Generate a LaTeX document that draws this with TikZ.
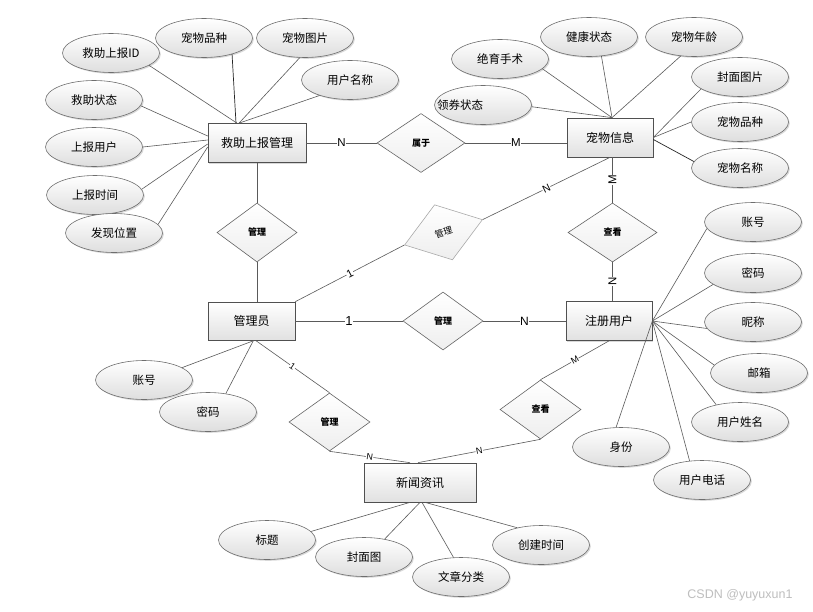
\documentclass[tikz,border=0pt]{standalone}
\usepackage{fontspec}
\setmainfont{Liberation Sans}
\newfontfamily\cjk{Noto Sans CJK SC}
\usetikzlibrary{shapes.geometric,shadows}
\definecolor{linec}{RGB}{90,90,90}
\definecolor{attrc}{RGB}{110,110,110}
\definecolor{attrbot}{RGB}{222,222,222}
\definecolor{entc}{RGB}{80,80,80}
\definecolor{entbot}{RGB}{225,225,225}
\definecolor{relc}{RGB}{100,100,100}
\definecolor{relbot}{RGB}{238,238,238}
\definecolor{relc2}{RGB}{170,170,170}
\definecolor{wmc}{RGB}{190,190,190}
\begin{document}
\begin{tikzpicture}[x=1pt,y=-1pt,
  line/.style={draw=linec, line width=0.6pt},
  dark/.style={draw=black!85, line width=0.7pt},
  attr/.style={ellipse, draw=attrc, line width=0.6pt, top color=white, bottom color=attrbot,
    minimum width=97pt, minimum height=39pt, inner sep=0pt,
    font=\cjk\fontsize{11.5}{12}\selectfont,
    drop shadow={shadow xshift=1.3pt, shadow yshift=-1.3pt, opacity=0.3}},
  ent/.style={rectangle, draw=entc, line width=0.7pt, top color=white, bottom color=entbot,
    minimum width=87pt, minimum height=39pt, inner sep=0pt,
    font=\cjk\fontsize{12}{13}\selectfont,
    drop shadow={shadow xshift=1.3pt, shadow yshift=-1.3pt, opacity=0.3}},
  rel/.style={diamond, draw=relc, line width=0.6pt, top color=white, bottom color=relbot,
    minimum width=80pt, minimum height=59pt, inner sep=0pt,
    font=\cjk\bfseries\fontsize{9}{10}\selectfont},
  card/.style={fill=white, inner sep=0.6pt, font=\fontsize{11.5}{12}\selectfont},
  cards/.style={fill=white, inner sep=0.5pt, font=\fontsize{9}{9}\selectfont},
  plain/.style={inner sep=0pt, font=\cjk\fontsize{11.5}{12}\selectfont},
]
\fill[white] (0,0) rectangle (813,611);
\useasboundingbox (0,0) rectangle (813,611);

% entities
\node[ent, minimum width=98pt] (jz) at (257,143) {救助上报管理};
\node[ent, minimum width=86pt] (cw) at (610,137.5) {宠物信息};
\node[ent, minimum height=38pt] (gly) at (251.5,321) {管理员};
\node[ent, minimum width=86pt] (zc) at (609,321) {注册用户};
\node[ent, minimum width=112pt] (xw) at (420,482.5) {新闻资讯};

% relations
\node[rel, minimum width=88pt] (d1) at (421,143) {属于};
\node[rel] (d2) at (257,232.5) {管理};
\node[rel, minimum width=89pt] (d3) at (612.5,232.5) {查看};
\node[rel, rotate=18, minimum width=82pt, minimum height=58pt, draw=relc2,
  font=\cjk\fontsize{9}{10}\selectfont] (d4) at (443.5,232.3) {管理};
\node[rel, minimum height=58pt] (d5) at (443,321) {管理};
\node[rel, minimum width=81pt] (d6) at (540.5,409.5) {查看};
\node[rel, minimum width=81pt, minimum height=58pt] (d7) at (329.5,422) {管理};

% attributes of 救助上报管理
\node[attr] (a1) at (111,53) {救助上报ID};
\node[attr] (a2) at (204,38) {宠物品种};
\node[attr] (a3) at (305,38) {宠物图片};
\node[attr] (a4) at (350,80) {用户名称};
\node[attr] (a5) at (94,100) {救助状态};
\node[attr] (a6) at (94,147) {上报用户};
\node[attr] (a7) at (95,195) {上报时间};
\node[attr] (a8) at (114,233) {发现位置};

% attributes of 宠物信息
\node[attr] (b1) at (500,59) {绝育手术};
\node[attr] (b2) at (589,37) {健康状态};
\node[attr] (b3) at (694,37) {宠物年龄};
\node[attr] (b4) at (740,77) {封面图片};
\node[attr] (b5) at (483,105) {};
\node[plain] (b5t) at ([xshift=-23pt]b5.center) {领券状态};
\node[attr] (b6) at (740,122) {宠物品种};
\node[attr] (b7) at (740,168) {宠物名称};

% attributes of 注册用户
\node[attr] (c1) at (753,222) {账号};
\node[attr] (c2) at (753,273) {密码};
\node[attr] (c3) at (753,322) {昵称};
\node[attr] (c4) at (759,373) {邮箱};
\node[attr] (c5) at (740,422) {用户姓名};
\node[attr] (c6) at (621,447) {身份};
\node[attr] (c7) at (702,480) {用户电话};

% attributes of 管理员
\node[attr] (e1) at (144,380) {账号};
\node[attr] (e2) at (208,412) {密码};

% attributes of 新闻资讯
\node[attr] (f1) at (267,540) {标题};
\node[attr] (f2) at (364,557) {封面图};
\node[attr] (f3) at (461,577) {文章分类};
\node[attr] (f4) at (541,545) {创建时间};

% attribute connectors
\draw[line] (a1.-18) -- ([xshift=-20pt]jz.north);
\draw[dark] (a2.-30) -- ([xshift=-21pt]jz.north);
\draw[line] (a3.-105) -- ([xshift=-18pt]jz.north);
\draw[line] (a4.-153) -- ([xshift=-18pt]jz.north);
\draw[line] (a5.-7) -- ([yshift=7pt]jz.west);
\draw[line] (a6.0) -- ([yshift=3pt]jz.west);
\draw[line] (a7.7) -- ([yshift=-1pt]jz.west);
\draw[line] (a8.11) -- ([yshift=-4pt]jz.west);

\draw[line] (b1.-13) -- ([xshift=2pt]cw.north);
\draw[line] (b2.-57) -- ([xshift=2pt]cw.north);
\draw[line] (b3.-125) -- ([xshift=2pt]cw.north);
\draw[line] (b5.-2) -- ([xshift=2pt]cw.north);
\draw[line] (b4.-163) -- (cw.east);
\draw[line] (b6.180) -- (cw.east);
\draw[dark] (b7.172) -- ([yshift=-2pt]cw.east);

\draw[line] (c1.-172) -- (zc.east);
\draw[line] (c2.-164) -- (zc.east);
\draw[line] (c3.-172) -- (zc.east);
\draw[line] (c4.170) -- (zc.east);
\draw[line] (c5.144) -- (zc.east);
\draw[line] (c6.104) -- (zc.east);
\draw[line] (c7.123) -- (zc.east);

\draw[line] (e1.18) -- ([xshift=3pt]gly.south);
\draw[line] (e2.46) -- ([xshift=2pt]gly.south);

\draw[line] (f1.11) -- ([xshift=-10pt]xw.south);
\draw[line] (f2.41) -- (xw.south);
\draw[line] (f3.111) -- ([xshift=2pt]xw.south);
\draw[line] (f4.144) -- ([xshift=5pt]xw.south);

% relationship connectors
\draw[line] (jz.east) -- node[card]{N} (d1.west);
\draw[line] (d1.east) -- node[card]{M} (d1.east -| cw.west);
\draw[line] (jz.south) -- (d2.north);
\draw[line] (d2.south) -- (d2.south |- gly.north);
\draw[line] (d3.north |- cw.south) -- node[card, rotate=90]{M} (d3.north);
\draw[line] (d3.south) -- node[card, rotate=90]{N} (d3.south |- zc.north);
\draw[line] (cw.south) -- node[card, sloped, font=\fontsize{10.5}{11}\selectfont]{N} (d4.east);
\draw[line] (gly.north east) -- node[card, sloped, font=\fontsize{11}{11}\selectfont]{1} (d4.west);
\draw[line] (gly.east) -- node[card, font=\fontsize{13}{13}\selectfont]{1} (d5.west);
\draw[line] (d5.east) -- node[card, font=\fontsize{12}{12}\selectfont]{N} (zc.west);
\draw[line] (zc.south) -- node[cards, sloped]{M} (d6.north);
\draw[line] (d6.south) -- node[cards, sloped]{N} ([xshift=-2pt]xw.north);
\draw[line] ([xshift=4pt]gly.south) -- node[cards, sloped]{1} (d7.north);
\draw[line] (d7.south) -- node[cards, sloped]{N} ([xshift=-10pt]xw.north);

% watermark
\node[text=wmc, font=\fontsize{12.5}{13}\selectfont, inner sep=0pt] (wm) at (740,595) {CSDN @yuyuxun1};
\end{tikzpicture}
\end{document}
